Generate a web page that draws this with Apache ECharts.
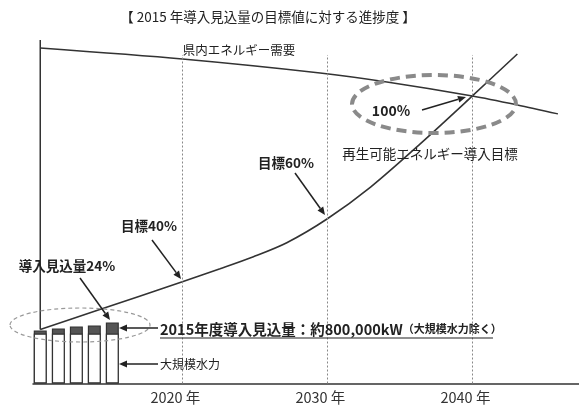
<!DOCTYPE html>
<html><head><meta charset="utf-8">
<script src="https://cdn.jsdelivr.net/npm/echarts@6/dist/echarts.min.js"></script>
<style>html,body{margin:0;padding:0;background:#fff}#c{width:579px;height:405px}</style>
</head><body><div id="c"></div>
<script>
const titleText = '【 2015 年導入見込量の目標値に対する進捗度 】';
const barYears = [2010.2, 2011.45, 2012.69, 2013.93, 2015.17];
const hydroValues = [50, 50, 50, 50, 50];
const renewValues = [3, 5, 7, 8, 11];
const demandYears = [2010.2, 2020, 2029.5, 2034.1, 2040, 2043.1, 2045.9];
const demandValues = [336, 325, 311, 302, 288, 279, 270];
const targetYears = [2010.2, 2014.1, 2020, 2022.6, 2024.9, 2027.2, 2030, 2033, 2036.4, 2040, 2043.1];
const targetValues = [54, 73, 102, 115, 127, 141, 165, 197, 240, 288, 330];
const gridYears = [2020, 2030, 2040];
const tickLabels = ['2020 年', '2030 年', '2040 年'];
const axisTopValue = 344;
const gridLineTop = 329;

const FONT = '"Noto Sans CJK JP", "Noto Sans", sans-serif';
const INK = '#222';

function arrow(x1, y1, x2, y2) {
  const a = Math.atan2(y2 - y1, x2 - x1), L = 8, W = 3.5;
  const bx = x2 - L * Math.cos(a), by = y2 - L * Math.sin(a);
  const px = -Math.sin(a) * W, py = Math.cos(a) * W;
  return [
    {type: 'line', z: 50, shape: {x1: x1, y1: y1, x2: bx, y2: by}, style: {stroke: INK, lineWidth: 1.5}},
    {type: 'polygon', z: 50, shape: {points: [[x2, y2], [bx + px, by + py], [bx - px, by - py]]}, style: {fill: INK}}
  ];
}
function txt(x, y, text, font, align) {
  return {type: 'text', z: 60, x: x, y: y, style: {text: text, font: font, fill: INK, textAlign: align || 'center', textVerticalAlign: 'middle'}};
}

const chart = echarts.init(document.getElementById('c'), null, {renderer: 'canvas'});
const graphics = [
  txt(268, 17, titleText, '13.5px ' + FONT),
  txt(239, 50, '県内エネルギー需要', '12.5px ' + FONT),
  txt(430, 154, '再生可能エネルギー導入目標', '13.5px ' + FONT),
  txt(391, 111, '100%', 'bold 14px ' + FONT),
  txt(286, 163, '目標60%', 'bold 13.5px ' + FONT),
  txt(149, 226, '目標40%', 'bold 13.5px ' + FONT),
  txt(67, 266, '導入見込量24%', 'bold 13.5px ' + FONT),
  txt(160, 364, '大規模水力', '12px ' + FONT, 'left'),
  {type: 'text', z: 60, x: 160, y: 329, style: {
    text: '{a|2015年度導入見込量：約800,000kW}{b|（大規模水力除く）}',
    textAlign: 'left', textVerticalAlign: 'middle',
    rich: {a: {font: 'bold 14.5px ' + FONT, fill: INK}, b: {font: 'bold 11px ' + FONT, fill: INK}}
  }},
  {type: 'line', z: 50, shape: {x1: 160, y1: 338, x2: 493, y2: 338}, style: {stroke: INK, lineWidth: 1.2}},
  {type: 'ellipse', z: 40, shape: {cx: 434, cy: 104, rx: 82, ry: 29}, style: {fill: 'none', stroke: '#8a8a8a', lineWidth: 4, lineDash: [10, 6]}},
  {type: 'ellipse', z: 40, shape: {cx: 80, cy: 325, rx: 70, ry: 17}, style: {fill: 'none', stroke: '#999', lineWidth: 1.2, lineDash: [4, 3]}}
].concat(
  arrow(422, 110, 466, 97),
  arrow(295, 173, 325, 215),
  arrow(152, 240, 181, 279),
  arrow(80, 278, 110, 320),
  arrow(158, 328, 119, 328),
  arrow(158, 364, 119, 364)
);

chart.setOption({
  animation: false,
  backgroundColor: '#fff',
  grid: {left: 33, right: 0, top: 40, bottom: 21},
  xAxis: {
    type: 'value', min: 2009.7, max: 2047.35,
    axisLine: {show: true, lineStyle: {color: '#333', width: 1.5}},
    axisTick: {show: false},
    splitLine: {show: false},
    axisLabel: {
      customValues: gridYears,
      formatter: function (v) { const i = gridYears.indexOf(v); return i >= 0 ? tickLabels[i] : ''; },
      color: '#333', fontFamily: FONT, fontSize: 14.5, margin: 7, padding: [0, 14, 0, 0]
    }
  },
  yAxis: {type: 'value', min: 0, max: axisTopValue, show: false, splitLine: {show: false}},
  series: [
    {type: 'bar', barWidth: 13, barGap: '-100%', silent: true, z: 2,
      data: barYears.map((y, i) => [y, hydroValues[i] + renewValues[i]]),
      itemStyle: {color: '#555', borderColor: '#333', borderWidth: 1.2}},
    {type: 'bar', barWidth: 13, barGap: '-100%', silent: true, z: 3,
      data: barYears.map((y, i) => [y, hydroValues[i]]),
      itemStyle: {color: '#fff', borderColor: '#333', borderWidth: 1.2}},
    {type: 'line', silent: true, symbol: 'none',
      data: [[barYears[0], targetValues[0]], [barYears[0], axisTopValue]],
      lineStyle: {color: '#333', width: 1.5}},
    {type: 'line', silent: true, symbol: 'none', smooth: 0.3,
      data: demandYears.map((y, i) => [y, demandValues[i]]),
      lineStyle: {color: '#333', width: 1.5}},
    {type: 'line', silent: true, symbol: 'none', smooth: 0.3,
      data: targetYears.map((y, i) => [y, targetValues[i]]),
      lineStyle: {color: '#333', width: 1.6},
      markLine: {silent: true, symbol: 'none', label: {show: false},
        lineStyle: {color: '#888', width: 1, type: [2, 2]},
        data: gridYears.map(y => [{coord: [y, 0]}, {coord: [y, gridLineTop]}])}}
  ],
  graphic: graphics
});
</script></body></html>
